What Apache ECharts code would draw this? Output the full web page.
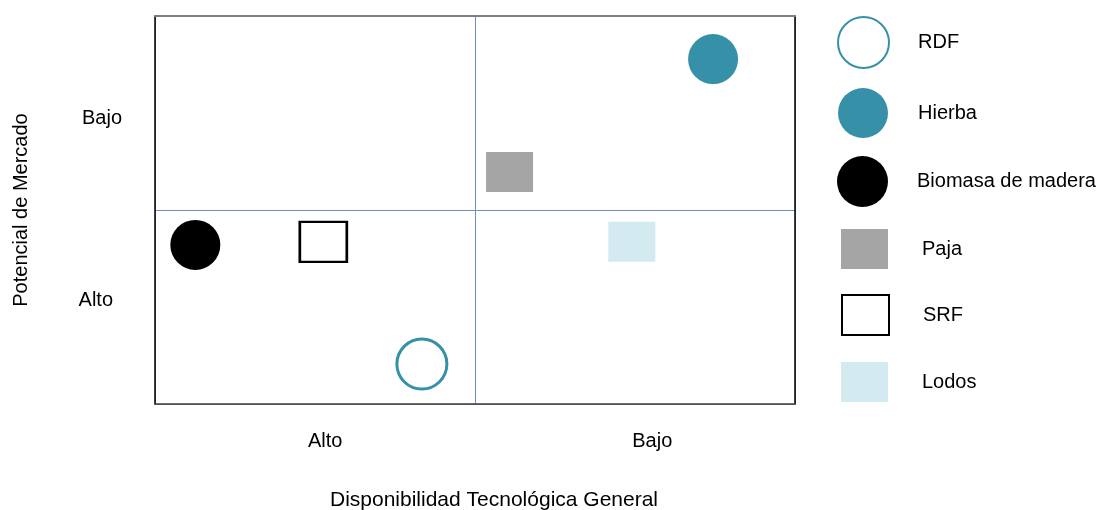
<!DOCTYPE html>
<html>
<head>
<meta charset="utf-8">
<script src="https://cdn.jsdelivr.net/npm/echarts@6/dist/echarts.min.js"></script>
<style>
html,body{margin:0;padding:0;background:#fff;}
#chart{width:1101px;height:510px;}
</style>
</head>
<body>
<div id="chart"></div>
<script>
// ---- data ----
const seriesNames = ['RDF', 'Hierba', 'Biomasa de madera', 'Paja', 'SRF', 'Lodos'];
const xValues = [4.17, 8.72, 0.63, 5.54, 2.63, 7.45];   // Disponibilidad Tecnológica (0 = alta, 10 = baja)
const yValues = [1.03, 8.89, 4.10, 5.98, 4.18, 4.18];   // Potencial de Mercado (0 = alto, 10 = bajo)
const xTickLabels = ['Alto', 'Bajo'];
const xTickValues = [2.66, 7.77];
const yTickLabels = ['Alto', 'Bajo'];
const yTickValues = [2.66, 7.35];
const xAxisTitle = 'Disponibilidad Tecnológica General';
const yAxisTitle = 'Potencial de Mercado';

// ---- styles ----
const TEAL = '#3691a8';
const FONT = 'Liberation Sans';
const markerStyles = [
  {symbol: 'circle', size: 50, item: {color: '#ffffff', borderColor: TEAL, borderWidth: 3, opacity: 1}},
  {symbol: 'circle', size: 50, item: {color: TEAL, opacity: 1}},
  {symbol: 'circle', size: 50, item: {color: '#000000', opacity: 1}},
  {symbol: 'rect', size: [47, 40], item: {color: '#a5a5a5', opacity: 1}},
  {symbol: 'rect', size: [47, 40], item: {color: '#ffffff', borderColor: '#000000', borderWidth: 2.5, opacity: 1}},
  {symbol: 'rect', size: [47, 40], item: {color: '#d3eaf0', opacity: 1}}
];
const legendPos = [
  {left: 837, top: 16, w: 51, h: 51, pad: 24},
  {left: 838, top: 88, w: 50, h: 50, pad: 25},
  {left: 837, top: 156, w: 51, h: 51, pad: 24},
  {left: 841, top: 229, w: 47, h: 40, pad: 29},
  {left: 841, top: 294, w: 47, h: 40, pad: 29},
  {left: 841, top: 362, w: 47, h: 40, pad: 29}
];

const chart = echarts.init(document.getElementById('chart'), null, {renderer: 'canvas'});

const series = seriesNames.map((name, i) => ({
  name: name,
  type: 'scatter',
  symbol: markerStyles[i].symbol,
  symbolSize: markerStyles[i].size,
  itemStyle: markerStyles[i].item,
  emphasis: {disabled: true},
  data: [[xValues[i], yValues[i]]],
  z: 3
}));

const legends = seriesNames.map((name, i) => ({
  data: [name],
  left: legendPos[i].left,
  top: legendPos[i].top,
  itemWidth: legendPos[i].w,
  itemHeight: legendPos[i].h,
  padding: 0,
  selectedMode: false,
  textStyle: {fontFamily: FONT, fontSize: 20, color: '#000', padding: [0, 0, 0, legendPos[i].pad]}
}));

chart.setOption({
  animation: false,
  backgroundColor: '#ffffff',
  textStyle: {fontFamily: FONT},
  grid: {left: 155, top: 16, width: 640, height: 388, containLabel: false, outerBoundsMode: 'none'},
  legend: legends,
  xAxis: [{
    type: 'value', min: 0, max: 10, interval: 5,
    position: 'bottom',
    name: xAxisTitle, nameLocation: 'middle', nameGap: 86,
    nameTextStyle: {fontFamily: FONT, fontSize: 21, color: '#000', padding: [0, 0, 0, 38]},
    axisLine: {show: true, onZero: false, lineStyle: {color: '#404040', width: 1.5}},
    axisTick: {show: false},
    splitLine: {show: true, lineStyle: {color: '#6f8fcb', width: 1}},
    axisLabel: {
      customValues: xTickValues,
      margin: 27,
      fontFamily: FONT, fontSize: 20, color: '#000',
      formatter: v => xTickLabels[xTickValues.indexOf(v)] || ''
    }
  }, {
    type: 'value', min: 0, max: 10, position: 'top',
    axisLine: {show: true, onZero: false, lineStyle: {color: '#7f7f7f', width: 2}},
    axisTick: {show: false}, axisLabel: {show: false}, splitLine: {show: false}
  }],
  yAxis: [{
    type: 'value', min: 0, max: 10, interval: 5,
    position: 'left',
    name: yAxisTitle, nameLocation: 'middle', nameGap: 124,
    nameTextStyle: {fontFamily: FONT, fontSize: 20, color: '#000'},
    axisLine: {show: true, onZero: false, lineStyle: {color: '#000', width: 1.5}},
    axisTick: {show: false},
    splitLine: {show: true, lineStyle: {color: '#6f8fcb', width: 1}},
    axisLabel: {
      customValues: yTickValues,
      margin: 33,
      fontFamily: FONT, fontSize: 20, color: '#000',
      formatter: v => {
        const lbl = yTickLabels[yTickValues.indexOf(v)] || '';
        return lbl === 'Alto' ? '{a|' + lbl + '}' : '{b|' + lbl + '}';
      },
      rich: {
        a: {fontFamily: FONT, fontSize: 20, color: '#000', padding: [0, 9, 0, 0]},
        b: {fontFamily: FONT, fontSize: 20, color: '#000'}
      }
    }
  }, {
    type: 'value', min: 0, max: 10, position: 'right',
    axisLine: {show: true, onZero: false, lineStyle: {color: '#000', width: 1.5}},
    axisTick: {show: false}, axisLabel: {show: false}, splitLine: {show: false}
  }],
  series: series
});
</script>
</body>
</html>
